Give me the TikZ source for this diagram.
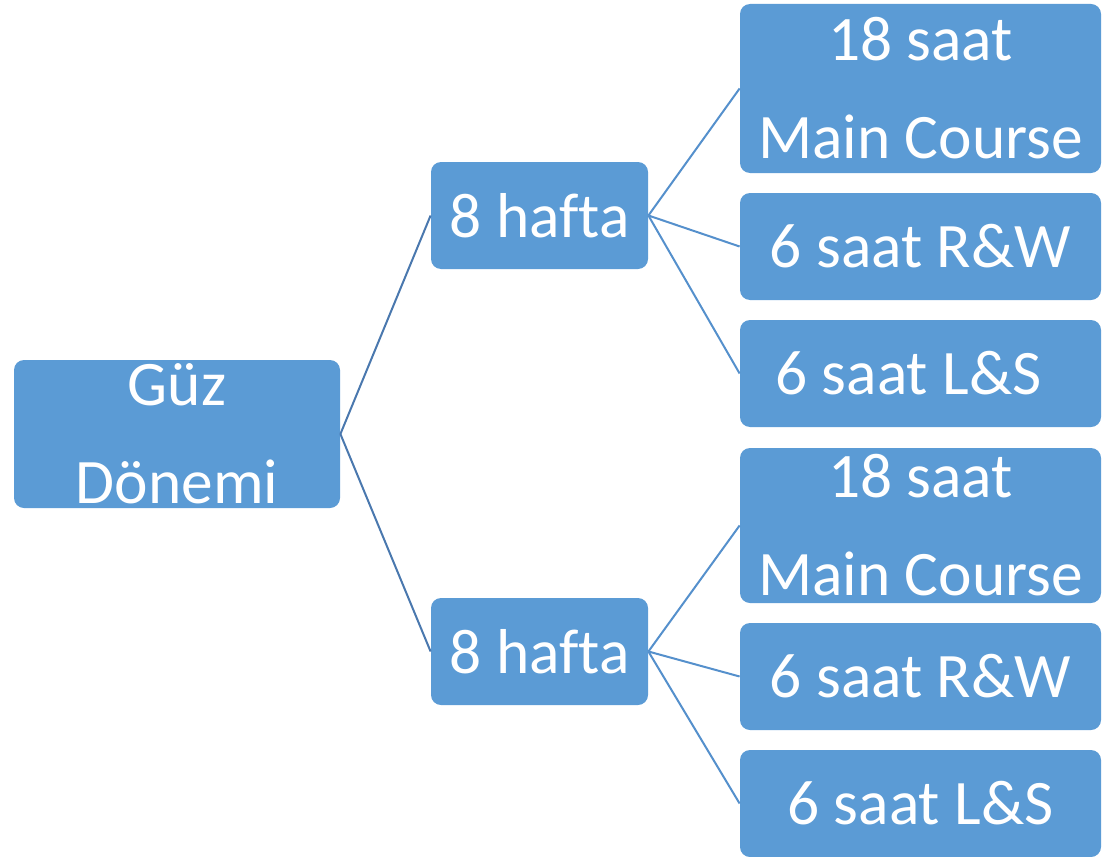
\documentclass[tikz,border=0pt]{standalone}
\usepackage{fontspec}
\setmainfont{Carlito}[Ligatures=NoCommon]

\definecolor{boxblue}{HTML}{5B9BD5}
\definecolor{linkdark}{HTML}{4A78AE}
\definecolor{linklight}{HTML}{5590CC}

\tikzset{
  blok/.style={rectangle, rounded corners=5pt, fill=boxblue, text=white,
    inner sep=0pt, align=center, font=\fontsize{31.7}{49}\selectfont},
  link/.style={line width=1pt},
}

\begin{document}
\begin{tikzpicture}[x=0.5pt,y=-0.5pt]
  \useasboundingbox (0,0) rectangle (1102,856);

  \node[blok, minimum width=163pt, minimum height=74pt] (guz) at (177,434) {Güz\\Dönemi};

  \node[blok, minimum width=108.5pt, minimum height=53.5pt] (hafta1) at (539.5,215.5) {8 haf\kern0pt ta};
  \node[blok, minimum width=108.5pt, minimum height=53.5pt] (hafta2) at (539.5,651.5) {8 haf\kern0pt ta};

  \node[blok, minimum width=180.5pt, minimum height=84.5pt] (main1) at (920.5,88.5) {18 saat\\Main Course};
  \node[blok, minimum width=180.5pt, minimum height=53.5pt] (rw1) at (920.5,246.5) {6 saat R\&W};
  \node[blok, minimum width=180.5pt, minimum height=53.5pt] (ls1) at (920.5,373.5) {6 saat L\&S\hspace*{12pt}};

  \node[blok, minimum width=180.5pt, minimum height=77.5pt] (main2) at (920.5,525.5) {18 saat\\Main Course};
  \node[blok, minimum width=180.5pt, minimum height=53.5pt] (rw2) at (920.5,676.5) {6 saat R\&W};
  \node[blok, minimum width=180.5pt, minimum height=53.5pt] (ls2) at (920.5,803.5) {6 saat L\&S};

  \draw[link, linkdark] (guz.east) -- (hafta1.west);
  \draw[link, linkdark] (guz.east) -- (hafta2.west);

  \draw[link, linklight] (hafta1.east) -- (main1.west);
  \draw[link, linklight] (hafta1.east) -- (rw1.west);
  \draw[link, linklight] (hafta1.east) -- (ls1.west);

  \draw[link, linklight] (hafta2.east) -- (main2.west);
  \draw[link, linklight] (hafta2.east) -- (rw2.west);
  \draw[link, linklight] (hafta2.east) -- (ls2.west);
\end{tikzpicture}
\end{document}
